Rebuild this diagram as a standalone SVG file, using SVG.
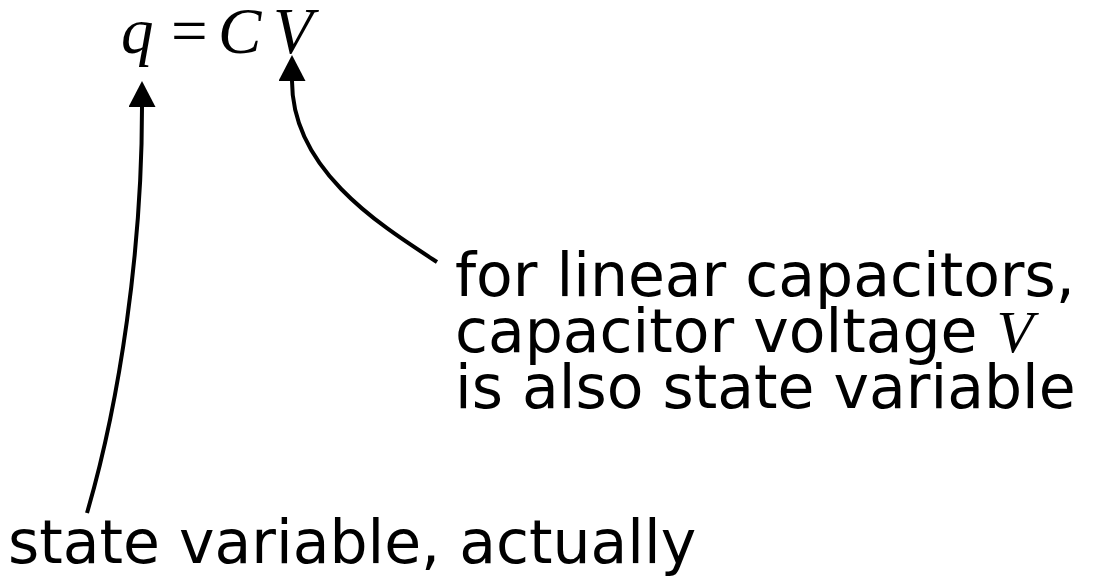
<svg xmlns="http://www.w3.org/2000/svg" width="1100" height="579" viewBox="0 0 1100 579">
<style>
.eq{font-family:"Liberation Serif","Times New Roman",serif;font-size:65px;fill:#000}
.it{font-style:italic}
.lbl{font-family:"DejaVu Sans","Comic Sans MS",sans-serif;font-size:60px;fill:#000}
.mv{font-family:"Liberation Serif","Times New Roman",serif;font-style:italic}
.conn{fill:none;stroke:#000;stroke-width:4}
</style>
<defs>
<marker id="ah" markerUnits="userSpaceOnUse" markerWidth="27" markerHeight="27" refX="0" refY="13.5" orient="auto" viewBox="0 0 27 27">
<path d="M0,0 L26,13.5 L0,27 z" fill="#000"/>
</marker>
</defs>
<rect width="1100" height="579" fill="#fff"/>
<g id="equation">
<text class="eq it" x="121" y="53">q</text>
<text class="eq" x="171" y="53">=</text>
<text class="eq it" x="218" y="53">C</text>
<text class="eq it" x="273" y="53">V</text>
</g>
<g id="connectors">
<path class="conn" d="M87,513 C120,400 142,250 142,107" marker-end="url(#ah)"/>
<path class="conn" d="M437,262 C380,225 292,170 292,81" marker-end="url(#ah)"/>
</g>
<g id="note-capacitor">
<text class="lbl" x="455" y="296">for linear capacitors,</text>
<text class="lbl" x="455" y="352">capacitor voltage <tspan class="mv">V</tspan></text>
<text class="lbl" x="455" y="408">is also state variable</text>
</g>
<g id="note-state">
<text class="lbl" x="8" y="563">state variable, actually</text>
</g>
</svg>
